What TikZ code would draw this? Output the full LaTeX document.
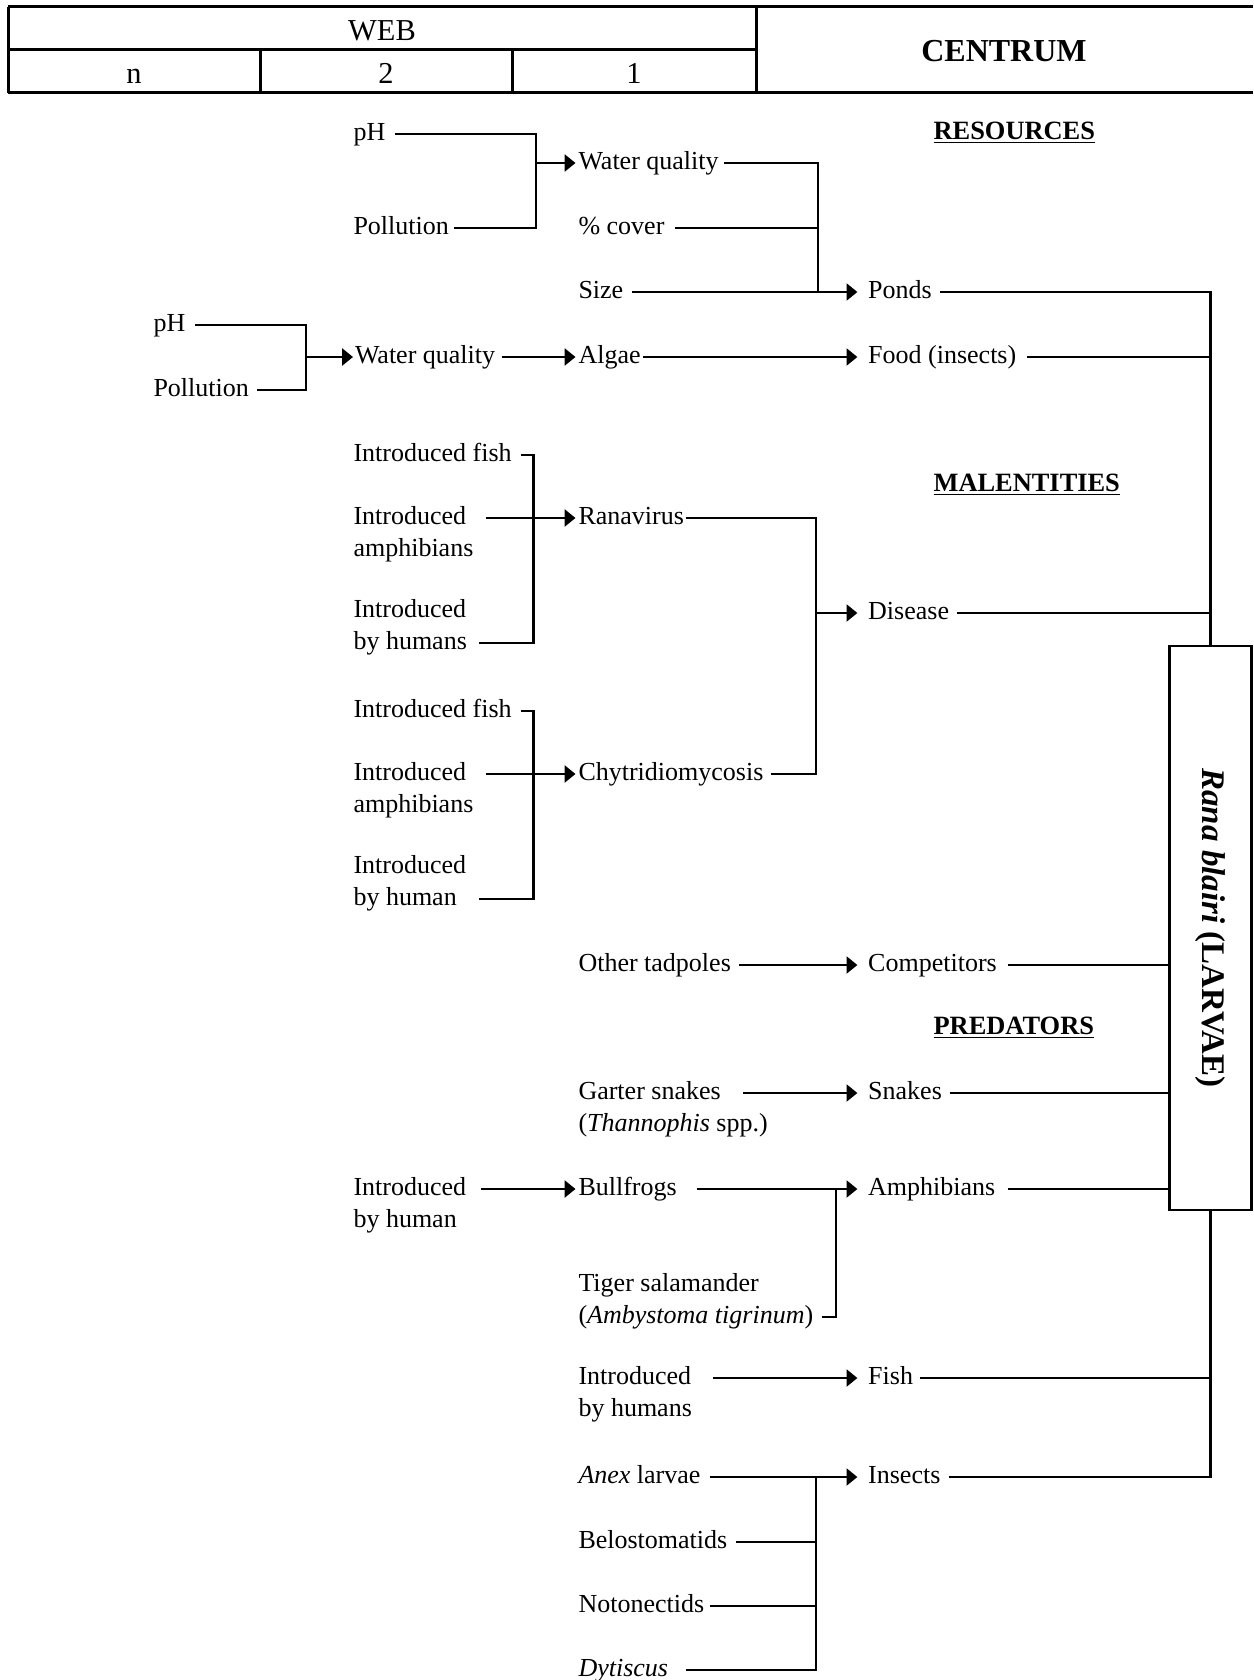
\documentclass[tikz,border=0pt]{standalone}
\usepackage{fontspec}
\usepackage{graphicx}
\setmainfont{Liberation Serif}
\usetikzlibrary{arrows.meta}
\begin{document}
\begin{tikzpicture}[x=0.5pt,y=-0.5pt,
  lbl/.style={anchor=west,inner sep=0pt,outer sep=0pt,text height=6.4pt,text depth=0pt,font=\fontsize{13}{16}\selectfont},
  sec/.style={anchor=west,inner sep=0pt,outer sep=0pt,font=\fontsize{13.2}{16}\selectfont\bfseries},
  hdr/.style={inner sep=0pt,outer sep=0pt,text height=10pt,text depth=0pt,font=\fontsize{15.2}{18}\selectfont},
  conn/.style={line width=1.3pt},
  arr/.style={conn,-{Triangle[length=5.4pt,width=8.4pt]}},
  hline/.style={line width=1.5pt}
]
\useasboundingbox[fill=white] (0,0) rectangle (1253,1680);

% ---------- header table ----------
\draw[hline] (8,7) -- (1253,7);
\draw[hline] (8,93) -- (1253,93);
\draw[hline] (8,50) -- (756,50);
\draw[hline] (8,7) -- (8,93);
\draw[hline] (260,50) -- (260,93);
\draw[hline] (512,50) -- (512,93);
\draw[hline] (756,7) -- (756,93);
\node[hdr] (web) at (382,30.5) {WEB};
\node[hdr] (hn) at (134,73.5) {n};
\node[hdr] (h2) at (386,73.5) {2};
\node[hdr] (h1) at (634,73.5) {1};
\node[hdr,font=\fontsize{16}{18}\selectfont\bfseries] (centrum) at (1004,52) {CENTRUM};

% ---------- section headings ----------
\node[sec] (res) at (933.6,133) {\underline{RESOURCES}};
\node[sec] (mal) at (933.6,484.5) {\underline{MALENTITIES}};
\node[sec] (pred) at (933.6,1028) {\underline{PREDATORS}};

% ---------- centre box ----------
\node[draw,line width=1.3pt,fill=white,minimum width=41pt,minimum height=282pt,inner sep=0pt] (rana) at (1210.5,928)
  {\rotatebox{-90}{\fontsize{16.5}{18}\selectfont\textbf{\textit{Rana blairi}} \textbf{(LARVAE)}}};
\coordinate (trunk) at (rana.north);

% ---------- resources ----------
\node[lbl] (pHa) at (353.5,134) {pH};
\node[lbl] (Pola) at (353.5,228) {Pollution};
\node[lbl] (WQa) at (578.5,163) {Water quality};
\node[lbl] (cover) at (578.5,228) {\% cover};
\node[lbl] (size) at (578.5,292) {Size};
\node[lbl] (ponds) at (868.2,292) {Ponds};
\node[lbl] (pHb) at (153.5,325) {pH};
\node[lbl] (Polb) at (153.5,390) {Pollution};
\node[lbl] (WQb) at (355,357) {Water quality};
\node[lbl] (algae) at (578.5,357) {Algae};
\node[lbl] (food) at (868.2,357) {Food (insects)};

\coordinate (jA) at (536,163);
\coordinate (jB) at (818,292);
\coordinate (jC) at (306,357);

\draw[conn] ([xshift=5pt]pHa.east) -| (jA) |- ([xshift=2.7pt]Pola.east);
\draw[arr] (jA) -- ([xshift=-1.5pt]WQa.west);
\draw[conn] ([xshift=2.9pt]WQa.east) -| (jB);
\draw[conn] ([xshift=5.3pt]cover.east) -- (cover.east -| jB);
\draw[arr] ([xshift=4.4pt]size.east) -- ([xshift=-5.4pt]ponds.west);
\draw[conn] ([xshift=4.1pt]ponds.east) -| (rana.north);

\draw[conn] ([xshift=5pt]pHb.east) -| (jC) |- ([xshift=4.3pt]Polb.east);
\draw[arr] (jC) -- ([xshift=-1pt]WQb.west);
\draw[arr] ([xshift=3.4pt]WQb.east) -- ([xshift=-1.5pt]algae.west);
\draw[arr] ([xshift=1.1pt]algae.east) -- ([xshift=-5.4pt]food.west);
\draw[conn] ([xshift=5.3pt]food.east) -- (food.east -| trunk);

% ---------- malentities ----------
\node[lbl] (IF1) at (353.5,455) {Introduced fish};
\node[lbl] (IA1) at (353.5,518) {Introduced};
\node[lbl] (IA1b) at (353.5,550) {amphibians};
\node[lbl] (IH1) at (353.5,611) {Introduced};
\node[lbl] (IH1b) at (353.5,643) {by humans};
\node[lbl] (ranav) at (578.5,518) {Ranavirus};
\node[lbl] (disease) at (868.2,613) {Disease};
\node[lbl] (IF2) at (353.5,711) {Introduced fish};
\node[lbl] (IA2) at (353.5,774) {Introduced};
\node[lbl] (IA2b) at (353.5,806) {amphibians};
\node[lbl] (IH2) at (353.5,867) {Introduced};
\node[lbl] (IH2b) at (353.5,899) {by human};
\node[lbl] (chy) at (578.5,774) {Chytridiomycosis};

\coordinate (jR) at (533.5,0);
\coordinate (jD) at (816,0);

\draw[conn] ([xshift=4.5pt]IF1.east) -- (IF1.east -| jR) -- (IH1b.east -| jR) -- ([xshift=6pt]IH1b.east);
\draw[arr] ([xshift=10.1pt]IA1.east) -- ([xshift=-1.5pt]ranav.west);
\draw[conn] ([xshift=4.5pt]IF2.east) -- (IF2.east -| jR) -- (IH2b.east -| jR) -- ([xshift=11pt]IH2b.east);
\draw[arr] ([xshift=10.1pt]IA2.east) -- ([xshift=-1.5pt]chy.west);

\draw[conn] ([xshift=0.9pt]ranav.east) -- (ranav.east -| jD) -- (chy.east -| jD) -- ([xshift=4pt]chy.east);
\draw[arr] (disease.west -| jD) -- ([xshift=-5.4pt]disease.west);
\draw[conn] ([xshift=4pt]disease.east) -- (disease.east -| trunk);

% ---------- competitors ----------
\node[lbl] (OT) at (578.5,965) {Other tadpoles};
\node[lbl] (comp) at (868.2,965) {Competitors};
\draw[arr] ([xshift=4.2pt]OT.east) -- ([xshift=-5.4pt]comp.west);
\draw[conn] ([xshift=5.4pt]comp.east) -- (comp.east -| rana.west);

% ---------- predators ----------
\node[lbl] (GS1) at (578.5,1093) {Garter snakes};
\node[lbl] (GS2) at (578.5,1125) {(\textit{Thannophis} spp.)};
\node[lbl] (snakes) at (868.2,1093) {Snakes};
\draw[arr] ([xshift=10.9pt]GS1.east) -- ([xshift=-5.4pt]snakes.west);
\draw[conn] ([xshift=3.9pt]snakes.east) -- (snakes.east -| rana.west);

\node[lbl] (IH3) at (353.5,1189) {Introduced};
\node[lbl] (IH3b) at (353.5,1221) {by human};
\node[lbl] (bull) at (578.5,1189) {Bullfrogs};
\node[lbl] (amph) at (868.2,1189) {Amphibians};
\node[lbl] (TS1) at (578.5,1285) {Tiger salamander};
\node[lbl] (TS2) at (578.5,1317) {(\textit{Ambystoma tigrinum})};
\coordinate (jM) at (836,0);
\draw[arr] ([xshift=7.5pt]IH3.east) -- ([xshift=-1.5pt]bull.west);
\draw[arr] ([xshift=9.9pt]bull.east) -- ([xshift=-5.4pt]amph.west);
\draw[conn] (bull.east -| jM) -- (TS2.east -| jM) -- ([xshift=4.3pt]TS2.east);
\draw[conn] ([xshift=6.2pt]amph.east) -- (amph.east -| rana.west);

\node[lbl] (IH4) at (578.5,1378) {Introduced};
\node[lbl] (IH4b) at (578.5,1410) {by humans};
\node[lbl] (fish) at (868.2,1378) {Fish};
\draw[arr] ([xshift=10.7pt]IH4.east) -- ([xshift=-5.4pt]fish.west);
\draw[conn] ([xshift=3.4pt]fish.east) -- (fish.east -| rana.south);

\node[lbl] (anex) at (578.5,1477) {\textit{Anex} larvae};
\node[lbl] (insects) at (868.2,1477) {Insects};
\node[lbl] (belo) at (578.5,1542) {Belostomatids};
\node[lbl] (noto) at (578.5,1606) {Notonectids};
\node[lbl] (dyt) at (578.5,1670) {\textit{Dytiscus}};
\draw[arr] ([xshift=5pt]anex.east) -- ([xshift=-5.4pt]insects.west);
\draw[conn] (anex.east -| jD) -- (dyt.east -| jD) -- ([xshift=8.9pt]dyt.east);
\draw[conn] ([xshift=4.4pt]belo.east) -- (belo.east -| jD);
\draw[conn] ([xshift=3.1pt]noto.east) -- (noto.east -| jD);
\draw[conn] ([xshift=4.1pt]insects.east) -| (rana.south);
\end{tikzpicture}
\end{document}
